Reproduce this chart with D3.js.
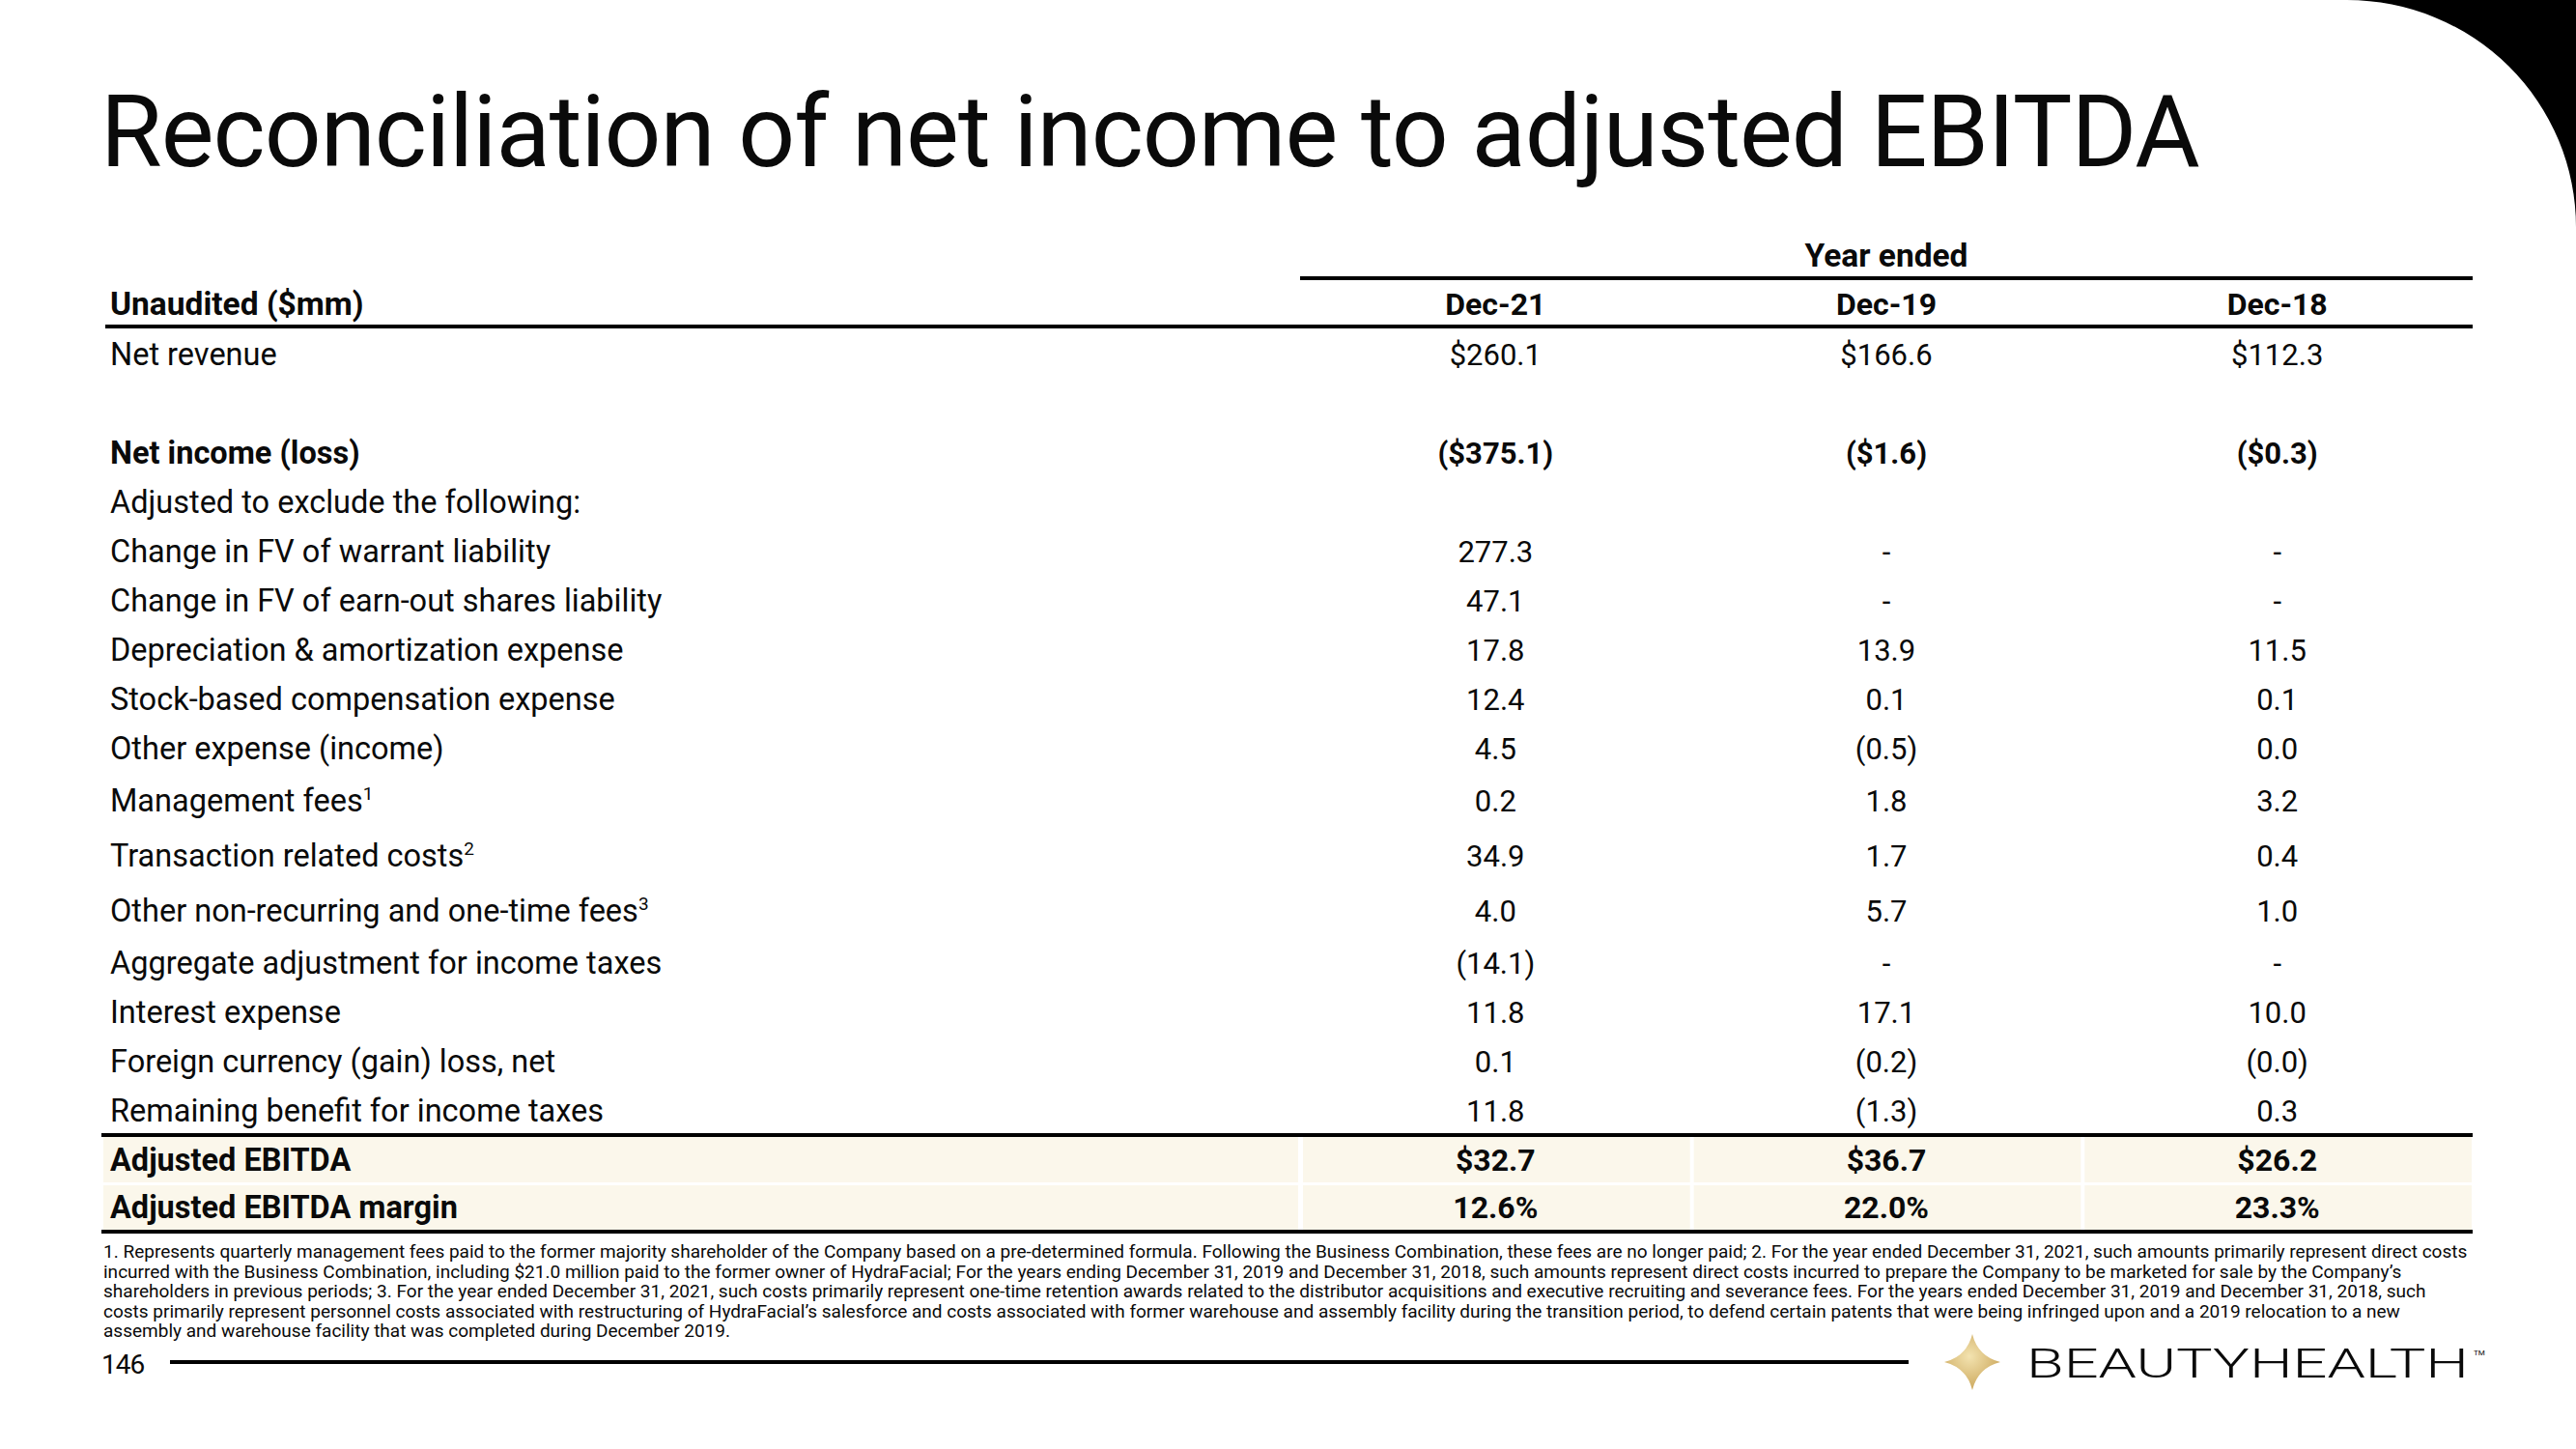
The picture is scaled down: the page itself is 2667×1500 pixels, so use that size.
<!DOCTYPE html>
<html>
<head>
<meta charset="UTF-8">
<title>Reconciliation of net income to adjusted EBITDA</title>
<script src="https://cdn.jsdelivr.net/npm/d3@7"></script>
<style>
  html, body { margin: 0; padding: 0; background: #fff; }
  svg { display: block; }
  text { fill: #0a0a0a; font-family: Roboto, 'Noto Sans', sans-serif; }
</style>
</head>
<body>
<svg id="chart"></svg>
<script>
  // table data
  const periods = ['Dec-21', 'Dec-19', 'Dec-18'];

  const rowLabels = [
    'Net revenue',
    '',
    'Net income (loss)',
    'Adjusted to exclude the following:',
    'Change in FV of warrant liability',
    'Change in FV of earn-out shares liability',
    'Depreciation & amortization expense',
    'Stock-based compensation expense',
    'Other expense (income)',
    'Management fees',
    'Transaction related costs',
    'Other non-recurring and one-time fees',
    'Aggregate adjustment for income taxes',
    'Interest expense',
    'Foreign currency (gain) loss, net',
    'Remaining benefit for income taxes'
  ];
  const footMarks = ['', '', '', '', '', '', '', '', '', '1', '2', '3', '', '', '', ''];

  // undefined = empty cell, null = "-"
  const dec21 = [260.1, undefined, -375.1, undefined, 277.3, 47.1, 17.8, 12.4, 4.5, 0.2, 34.9, 4.0, -14.1, 11.8, 0.1, 11.8];
  const dec19 = [166.6, undefined, -1.6, undefined, null, null, 13.9, 0.1, -0.5, 1.8, 1.7, 5.7, null, 17.1, -0.2, -1.3];
  const dec18 = [112.3, undefined, -0.3, undefined, null, null, 11.5, 0.1, 0.0, 3.2, 0.4, 1.0, null, 10.0, -0.0, 0.3];

  const dollarRows = ['Net revenue', 'Net income (loss)'];
  const boldRows = ['Net income (loss)'];

  const ebitda = [32.7, 36.7, 26.2];
  const ebitdaMargin = [12.6, 22.0, 23.3];

  const footnotes = [
    '1. Represents quarterly management fees paid to the former majority shareholder of the Company based on a pre-determined formula. Following the Business Combination, these fees are no longer paid; 2. For the year ended December 31, 2021, such amounts primarily represent direct costs',
    'incurred with the Business Combination, including $21.0 million paid to the former owner of HydraFacial; For the years ending December 31, 2019 and December 31, 2018, such amounts represent direct costs incurred to prepare the Company to be marketed for sale by the Company\u2019s',
    'shareholders in previous periods; 3. For the year ended December 31, 2021, such costs primarily represent one-time retention awards related to the distributor acquisitions and executive recruiting and severance fees. For the years ended December 31, 2019 and December 31, 2018, such',
    'costs primarily represent personnel costs associated with restructuring of HydraFacial\u2019s salesforce and costs associated with former warehouse and assembly facility during the transition period, to defend certain patents that were being infringed upon and a 2019 relocation to a new',
    'assembly and warehouse facility that was completed during December 2019.'
  ];

  const width = 2667, height = 1500;
  const svg = d3.select('#chart').attr('width', width).attr('height', height);

  function fmt(v, dollar, suffix) {
    if (v === undefined) return '';
    if (v === null) return '-';
    const neg = v < 0 || Object.is(v, -0);
    const s = (dollar ? '$' : '') + Math.abs(v).toFixed(1) + (suffix || '');
    return neg ? '(' + s + ')' : s;
  }

  // corner shape
  svg.append('path')
    .attr('d', 'M2430,0 A237,235 0 0 1 2667,235 L2667,0 Z')
    .attr('fill', '#000');

  // title
  const title = svg.append('text')
    .attr('x', 104).attr('y', 172)
    .attr('font-family', 'Inter, Lato, sans-serif')
    .attr('font-size', 90)
    .style('letter-spacing', '-1px')
    .text('Reconciliation of net income to adjusted EBITDA');
  const tw = title.node().getComputedTextLength();
  title.attr('font-size', 90 * 2166 / tw);

  // column scale
  const x = d3.scaleBand().domain(periods).range([1346, 2560]);
  const labelX = 114;
  const labelFs = 32.5, valueFs = 31, headFs = 33.5;

  // row positions (rows with footnote marks sit a little taller)
  let rowTop = 341.5;
  const rowY = rowLabels.map((l, i) => {
    const h = footMarks[i] ? 57 : 51;
    const c = rowTop + h / 2;
    rowTop += h;
    return c;
  });

  // header
  svg.append('text')
    .attr('x', x('Dec-19') + x.bandwidth() / 2).attr('y', 276)
    .attr('text-anchor', 'middle').attr('font-size', headFs).attr('font-weight', 700)
    .text('Year ended');
  svg.append('line')
    .attr('x1', 1346).attr('x2', 2560).attr('y1', 288).attr('y2', 288)
    .attr('stroke', '#000').attr('stroke-width', 4);
  svg.append('text')
    .attr('x', labelX).attr('y', 326)
    .attr('font-size', headFs).attr('font-weight', 700)
    .text('Unaudited ($mm)');
  svg.selectAll('.colhead')
    .data(periods).enter().append('text')
    .attr('class', 'colhead')
    .attr('x', d => x(d) + x.bandwidth() / 2).attr('y', 326)
    .attr('text-anchor', 'middle').attr('font-size', valueFs + 1).attr('font-weight', 700)
    .text(d => d);
  svg.append('line')
    .attr('x1', 109).attr('x2', 2560).attr('y1', 338).attr('y2', 338)
    .attr('stroke', '#000').attr('stroke-width', 4);

  // body rows
  const rows = svg.append('g');
  rowLabels.forEach((label, i) => {
    const bold = boldRows.includes(label) ? 700 : 400;
    const t = rows.append('text')
      .attr('x', labelX).attr('y', rowY[i] + 11)
      .attr('font-size', labelFs).attr('font-weight', bold)
      .text(label);
    if (footMarks[i]) {
      t.append('tspan').attr('dy', -12).attr('font-size', 19).text(footMarks[i]);
    }
    const dollar = dollarRows.includes(label);
    [dec21, dec19, dec18].forEach((col, j) => {
      rows.append('text')
        .attr('x', x(periods[j]) + x.bandwidth() / 2).attr('y', rowY[i] + 11)
        .attr('text-anchor', 'middle').attr('font-size', valueFs).attr('font-weight', bold)
        .text(fmt(col[i], dollar));
    });
  });

  // summary rows
  const sumRows = [
    { label: 'Adjusted EBITDA', values: ebitda, dollar: true, suffix: '', y0: 1177, y1: 1224 },
    { label: 'Adjusted EBITDA margin', values: ebitdaMargin, dollar: false, suffix: '%', y0: 1227, y1: 1273 }
  ];
  const sumG = svg.append('g');
  sumRows.forEach(r => {
    sumG.append('rect')
      .attr('x', 107).attr('y', r.y0).attr('width', 1344 - 107).attr('height', r.y1 - r.y0)
      .attr('fill', '#FBF7EB');
    periods.forEach(p => {
      sumG.append('rect')
        .attr('x', x(p) + 3).attr('y', r.y0).attr('width', x.bandwidth() - 4).attr('height', r.y1 - r.y0)
        .attr('fill', '#FBF7EB');
    });
    const cy = (r.y0 + r.y1) / 2;
    sumG.append('text')
      .attr('x', labelX).attr('y', cy + 11)
      .attr('font-size', labelFs).attr('font-weight', 700)
      .text(r.label);
    r.values.forEach((v, j) => {
      sumG.append('text')
        .attr('x', x(periods[j]) + x.bandwidth() / 2).attr('y', cy + 11)
        .attr('text-anchor', 'middle').attr('font-size', valueFs + 1).attr('font-weight', 700)
        .text(fmt(v, r.dollar, r.suffix));
    });
  });
  [1175, 1275].forEach(yy => {
    svg.append('line')
      .attr('x1', 105).attr('x2', 2560).attr('y1', yy).attr('y2', yy)
      .attr('stroke', '#000').attr('stroke-width', 4);
  });

  // footnotes
  const fn = svg.append('g');
  const fnLines = fn.selectAll('text').data(footnotes).enter().append('text')
    .attr('x', 107).attr('y', (d, i) => 1302 + i * 20.6)
    .attr('font-size', 17)
    .text(d => d);
  const fw = fnLines.nodes()[0].getComputedTextLength();
  fnLines.attr('font-size', 17 * 2450 / fw);

  // footer
  svg.append('text')
    .attr('x', 105).attr('y', 1422)
    .attr('font-size', 28)
    .style('letter-spacing', '-1px')
    .text('146');
  svg.append('line')
    .attr('x1', 176).attr('x2', 1976).attr('y1', 1410).attr('y2', 1410)
    .attr('stroke', '#000').attr('stroke-width', 4);

  const defs = svg.append('defs');
  const grad = defs.append('radialGradient').attr('id', 'gold')
    .attr('cx', '45%').attr('cy', '40%').attr('r', '60%');
  grad.append('stop').attr('offset', '0%').attr('stop-color', '#F3E3B0');
  grad.append('stop').attr('offset', '100%').attr('stop-color', '#CDA95E');

  const sx = 2042, sy = 1410, sw = 29, sh = 29, k = 0.2;
  svg.append('path')
    .attr('d', `M${sx},${sy - sh} Q${sx + sw * k},${sy - sh * k} ${sx + sw},${sy}`
      + ` Q${sx + sw * k},${sy + sh * k} ${sx},${sy + sh}`
      + ` Q${sx - sw * k},${sy + sh * k} ${sx - sw},${sy}`
      + ` Q${sx - sw * k},${sy - sh * k} ${sx},${sy - sh} Z`)
    .attr('fill', 'url(#gold)');

  svg.append('text')
    .attr('x', 2098).attr('y', 1426)
    .attr('font-family', 'Lato, Inter, sans-serif')
    .attr('font-weight', 300)
    .attr('font-size', 42)
    .attr('textLength', 458).attr('lengthAdjust', 'spacingAndGlyphs')
    .text('BEAUTYHEALTH');
  svg.append('text')
    .attr('x', 2561).attr('y', 1403)
    .attr('font-size', 8)
    .text('TM');
</script>
</body>
</html>
